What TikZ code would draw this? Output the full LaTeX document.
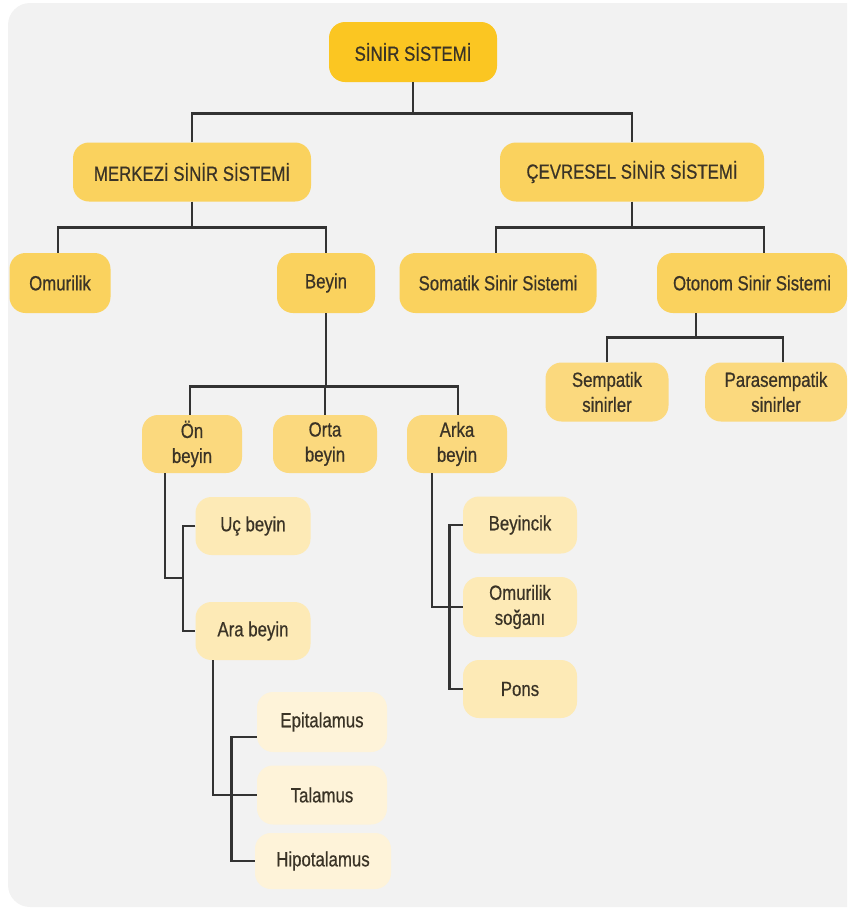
\documentclass[tikz,border=0pt]{standalone}
\usepackage{fontspec}
\setmainfont{Liberation Sans}[FakeStretch=0.82,FakeBold=0.6]
\usetikzlibrary{calc}
\definecolor{lvA}{HTML}{FBC622}
\definecolor{lvB}{HTML}{FAD25E}
\definecolor{lvC}{HTML}{FBD97E}
\definecolor{lvD}{HTML}{FDEAB6}
\definecolor{lvE}{HTML}{FEF3D9}
\definecolor{panel}{HTML}{F2F2F2}
\definecolor{ink}{HTML}{3A3326}
\definecolor{wire}{HTML}{333333}
\begin{document}
\begin{tikzpicture}[x=1pt,y=-1pt,
  box/.style={rounded corners=16pt, inner sep=0pt, align=center, text=ink,
    font=\fontsize{20.5}{25}\selectfont},
  conn/.style={draw=wire, line width=2.7pt},
  bx/.style n args={3}{box, fill=#1, minimum width=#2, minimum height=#3},
]
\useasboundingbox (0,0) rectangle (847,911);
\begin{scope}
  \clip (0,0) rectangle (847,911);
  \fill[panel, rounded corners=22pt] (8,3) rectangle (880,907);
\end{scope}

% nodes
\node[bx={lvA}{168pt}{60pt}] (root) at (413,52) {SİNİR SİSTEMİ};
\node[bx={lvB}{238pt}{59pt}] (mss) at (192,172) {MERKEZİ SİNİR SİSTEMİ};
\node[bx={lvB}{264pt}{59pt}] (css) at (632,172) {ÇEVRESEL SİNİR SİSTEMİ};
\node[bx={lvB}{101pt}{60pt}] (omur) at (60,283) {Omurilik};
\node[bx={lvB}{98pt}{60pt}] (beyin) at (326,283) {Beyin};
\node[bx={lvB}{197pt}{60pt}] (somatik) at (498,283) {Somatik Sinir Sistemi};
\node[bx={lvB}{190pt}{60pt}] (otonom) at (752,283) {Otonom Sinir Sistemi};
\node[bx={lvC}{123pt}{59pt}] (sempatik) at (607,392) {Sempatik\\sinirler};
\node[bx={lvC}{142pt}{59pt}] (para) at (776,392) {Parasempatik\\sinirler};
\node[bx={lvC}{100pt}{58pt}] (on) at (192,444) {Ön\\beyin};
\node[bx={lvC}{104pt}{58pt}] (orta) at (325,444) {Orta\\beyin};
\node[bx={lvC}{100pt}{58pt}] (arka) at (457,444) {Arka\\beyin};
\node[bx={lvD}{115pt}{58pt}] (uc) at (253,526) {Uç beyin};
\node[bx={lvD}{115pt}{58pt}] (ara) at (253,631) {Ara beyin};
\node[bx={lvD}{114pt}{57pt}] (beyincik) at (520,525) {Beyincik};
\node[bx={lvD}{114pt}{60pt}] (sogan) at (520,607) {Omurilik\\soğanı};
\node[bx={lvD}{114pt}{58pt}] (pons) at (520,689) {Pons};
\node[bx={lvE}{130pt}{60pt}] (epi) at (322,722) {Epitalamus};
\node[bx={lvE}{130pt}{59pt}] (tal) at (322,795) {Talamus};
\node[bx={lvE}{136pt}{56pt}] (hipo) at (323,861) {Hipotalamus};

% connectors
\draw[conn] (root.south) -- ++(0,31) coordinate (j0);
\draw[conn] (mss.north) |- (j0) -| (css.north);

\draw[conn] (mss.south) -- ++(0,26) coordinate (j1);
\draw[conn] ($(omur.north)+(-2,0)$) |- (j1) -| (beyin.north);

\draw[conn] (css.south) -- ++(0,26) coordinate (j2);
\draw[conn] ($(somatik.north)+(-2,0)$) |- (j2) -| ($(otonom.north)+(12,0)$);

\draw[conn] ($(otonom.south)+(-56,0)$) -- ++(0,24) coordinate (j3);
\draw[conn] (sempatik.north) |- (j3) -| ($(para.north)+(7,0)$);

\draw[conn] (beyin.south) -- ++(0,73) coordinate (j4);
\draw[conn] ($(on.north)+(-2,0)$) |- (j4) -| ($(arka.north)+(1,0)$);
\draw[conn] (orta.north) -- (orta.north |- j4);

\coordinate (b1) at (183,578);
\draw[conn] ($(on.south)+(-27,0)$) |- (b1);
\draw[conn] (uc.west) -| (b1) |- (ara.west);

\draw[conn] ($(ara.south)+(-40,0)$) |- (tal.west);
\draw[conn] ($(epi.west)+(0,15)$) -| ($(hipo.west)+(-23,0)$) -- (hipo.west);

\draw[conn] ($(arka.south)+(-25,0)$) |- (sogan.west);
\draw[conn] (beyincik.west) -| ($(pons.west)+(-13,0)$) -- (pons.west);
\end{tikzpicture}
\end{document}
